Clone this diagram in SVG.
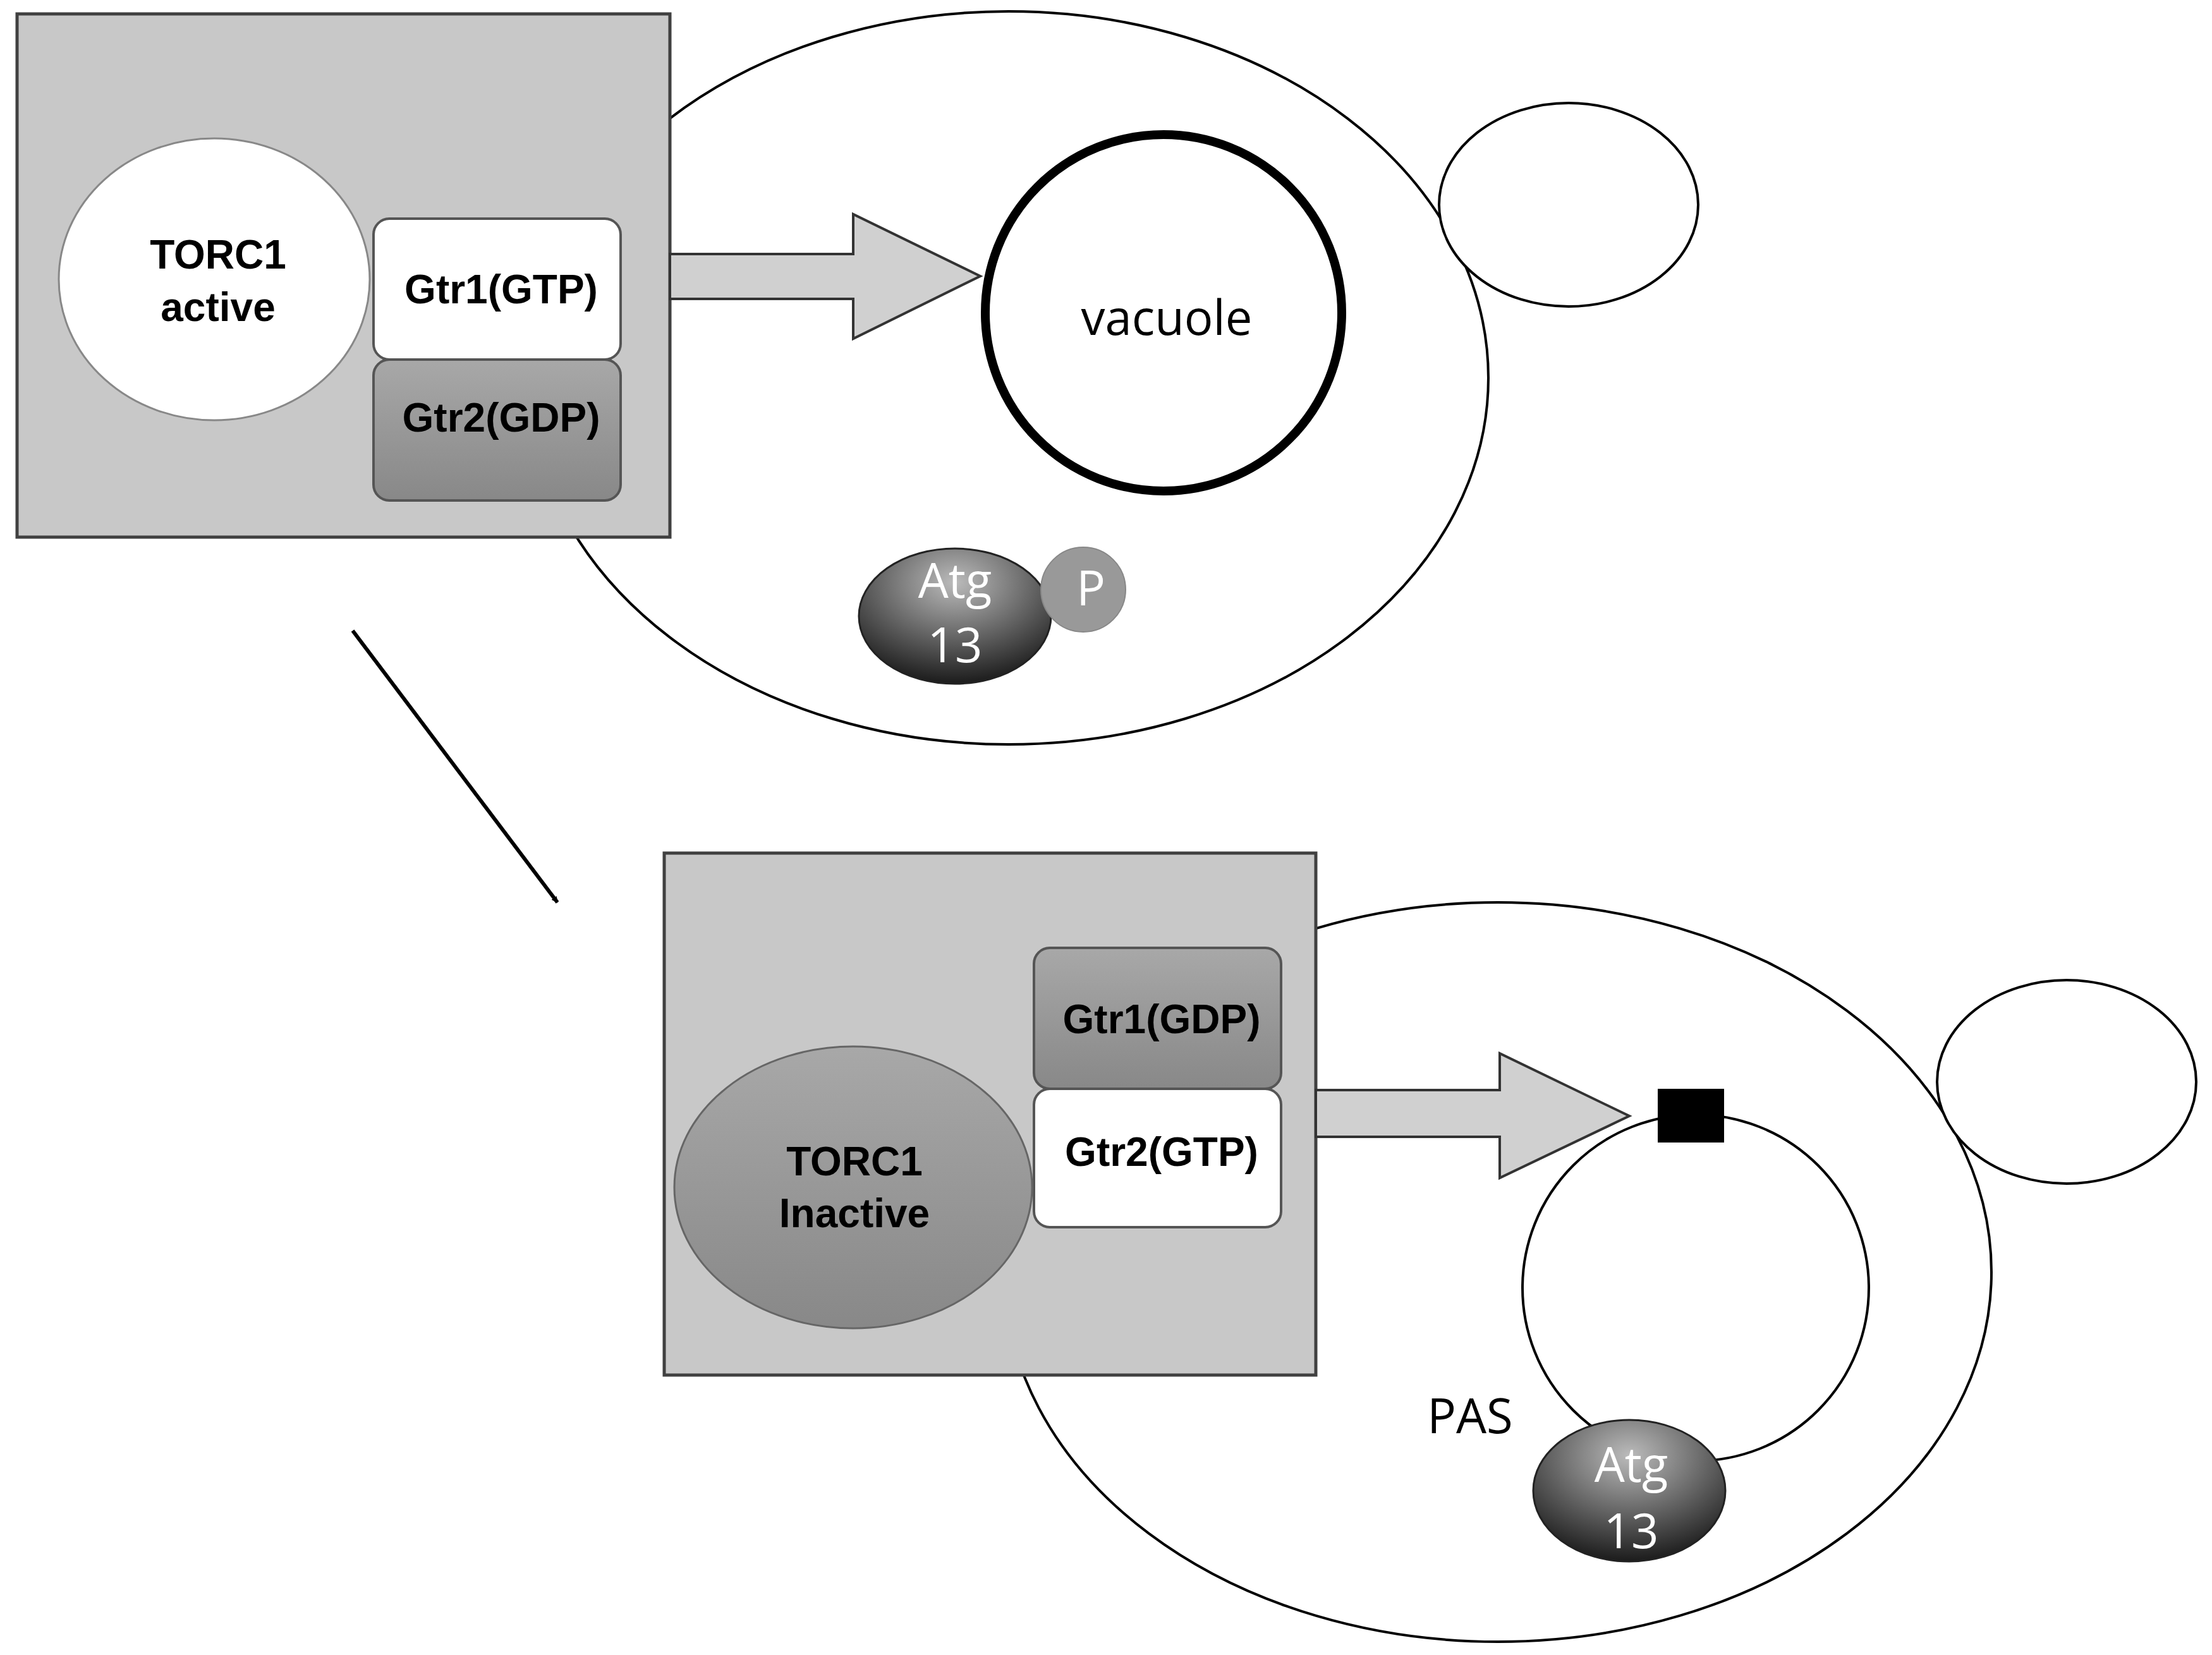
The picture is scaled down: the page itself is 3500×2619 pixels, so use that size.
<svg xmlns="http://www.w3.org/2000/svg" width="3500" height="2619" viewBox="0 0 3500 2619">
<style>
.cell{fill:#fff;stroke:#000;stroke-width:4}
.box{fill:#c8c8c8;stroke:#404040;stroke-width:5}
.blk{fill:#d0d0d0;stroke:#333;stroke-width:4}
.b{font-family:"Liberation Sans",Arial,sans-serif;font-weight:bold;font-size:64px;text-anchor:middle;fill:#000}
.n{font-family:"Open Sans","DejaVu Sans",sans-serif;font-size:76px;text-anchor:middle}
</style>
<defs>
<radialGradient id="dk" cx="0.5" cy="0.25" r="0.8"><stop offset="0" stop-color="#bbb"/><stop offset="0.6" stop-color="#555"/><stop offset="1" stop-color="#111"/></radialGradient>
<linearGradient id="gr" x1="0" y1="0" x2="0" y2="1"><stop offset="0" stop-color="#a8a8a8"/><stop offset="1" stop-color="#888"/></linearGradient>
<marker id="ah" markerWidth="10" markerHeight="10" refX="9" refY="5" orient="auto" markerUnits="userSpaceOnUse" viewBox="0 0 10 10"><path d="M0,0 L10,5 L0,10 z"/></marker>
</defs>
<g id="cell1"><ellipse class="cell" cx="1596" cy="598" rx="759" ry="580"/><ellipse class="cell" cx="2482" cy="324" rx="205" ry="161"/></g>
<g id="box1"><rect class="box" x="27" y="22" width="1033" height="828"/></g>
<g id="torc1a"><ellipse cx="339" cy="442" rx="246" ry="223" fill="#fff" stroke="#888" stroke-width="3"/><text class="b" x="345" y="425">TORC1</text><text class="b" x="345" y="508">active</text></g>
<g id="gtr1gtp"><rect x="591" y="346" width="391" height="223" rx="25" fill="#fff" stroke="#555" stroke-width="4"/><text class="b" x="793" y="480">Gtr1(GTP)</text></g>
<g id="gtr2gdp"><rect x="591" y="569" width="391" height="223" rx="25" fill="url(#gr)" stroke="#555" stroke-width="4"/><text class="b" x="793" y="683">Gtr2(GDP)</text></g>
<g id="vacuole"><circle cx="1841" cy="495" r="282" fill="#fff" stroke="#000" stroke-width="14"/><text class="n" x="1846" y="530">vacuole</text></g>
<g id="atg13a"><ellipse cx="1511" cy="975" rx="152" ry="107" fill="url(#dk)" stroke="#222" stroke-width="3"/><circle cx="1714" cy="933" r="67" fill="#999" stroke="#888" stroke-width="2"/><text class="n" x="1511" y="946" fill="#fff">Atg</text><text class="n" x="1511" y="1048" fill="#fff">13</text><text class="n" x="1726" y="958" fill="#fff" font-size="64">P</text></g>
<g id="cell2"><ellipse class="cell" cx="2370" cy="2013" rx="781" ry="585"/><ellipse class="cell" cx="3270" cy="1712" rx="205" ry="161"/></g>
<g id="box2"><rect class="box" x="1051" y="1350" width="1031" height="826"/></g>
<g id="gtr1gdp"><rect x="1636" y="1500" width="391" height="223" rx="25" fill="url(#gr)" stroke="#555" stroke-width="4"/><text class="b" x="1838" y="1635">Gtr1(GDP)</text></g>
<g id="gtr2gtp"><rect x="1636" y="1723" width="391" height="219" rx="25" fill="#fff" stroke="#555" stroke-width="4"/><text class="b" x="1838" y="1845">Gtr2(GTP)</text></g>
<g id="torc1i"><ellipse cx="1350" cy="1879" rx="283" ry="223" fill="url(#gr)" stroke="#666" stroke-width="3"/><text class="b" x="1352" y="1860">TORC1</text><text class="b" x="1352" y="1942">Inactive</text></g>
<g id="pas"><circle cx="2683" cy="2038" r="274" fill="#fff" stroke="#000" stroke-width="4"/><rect x="2623" y="1723" width="105" height="85" fill="#000"/><text class="n" x="2326" y="2268">PAS</text></g>
<g id="atg13b"><ellipse cx="2578" cy="2359" rx="152" ry="112" fill="url(#dk)" stroke="#222" stroke-width="3"/><text class="n" x="2581" y="2345" fill="#fff">Atg</text><text class="n" x="2581" y="2450" fill="#fff">13</text></g>
<g id="connectors">
<path class="blk" d="M1060,402 H1350 V339 L1551,437 L1350,536 V473 H1060 Z"/>
<path class="blk" d="M2082,1725 H2373 V1667 L2578,1766 L2373,1864 V1799 H2082 Z"/>
<line x1="558" y1="998" x2="882" y2="1428" stroke="#000" stroke-width="6" marker-end="url(#ah)"/>
</g>
<style>#connectors marker{}</style>
</svg>
